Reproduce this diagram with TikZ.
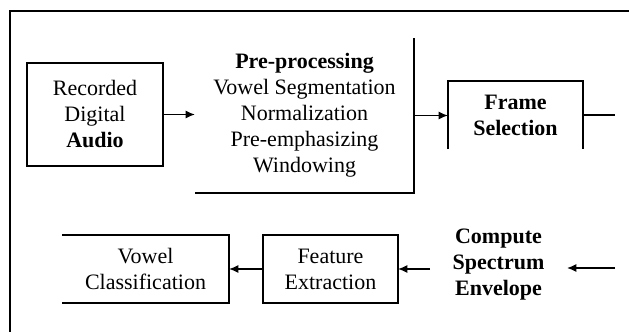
\documentclass[tikz,border=0pt]{standalone}
\usepackage{fontspec}
\setmainfont{Liberation Serif}
\usetikzlibrary{arrows.meta}
\begin{document}
\begin{tikzpicture}[x=0.75pt,y=-0.75pt,
  every node/.style={inner sep=0pt,outer sep=0pt,align=center,
    font=\fontsize{16.5}{19.5}\selectfont},
  ln/.style={line width=1.1pt,black},
  arr/.style={ln,-{Latex[length=7pt,width=6pt]}},
  blk/.style={draw,ln,minimum width=#1}]
\useasboundingbox (0,0) rectangle (629,332);
% outer frame (cropped)
\coordinate (fl) at (10,332);
\coordinate (ftl) at (10,11);
\coordinate (ftr) at (629,11);
\draw[ln] (fl) -- (ftl) -- (ftr);
% nodes
\node[blk=102pt,minimum height=77.25pt] (rec) at (95,114.5)
  {Recorded\\Digital\\\textbf{Audio}};
\node[minimum width=164.25pt,minimum height=116.25pt] (pre) at (304.5,115.5)
  {\textbf{Pre-processing}\\Vowel Segmentation\\Normalization\\Pre-emphasizing\\Windowing};
\node[minimum width=101.25pt,minimum height=51pt] (frm) at (515.5,115)
  {\textbf{Frame}\\\textbf{Selection}};
\node[minimum width=125.25pt,minimum height=51pt] (vow) at (145.5,269)
  {Vowel\\Classification};
\node[blk=101.25pt,minimum height=51pt] (fea) at (330.5,269)
  {Feature\\Extraction};
\node[minimum width=102.75pt] (cmp) at (498.5,265)
  {\textbf{Compute}\\\textbf{Spectrum}\\\textbf{Envelope}};
\coordinate (frmout) at (615,116);
\coordinate (cmpin) at (615,268);
% partial borders
\draw[ln] (pre.south west) -- (pre.south east) -- (pre.north east);
\draw[ln] (frm.south west) -- (frm.north west) -- (frm.north east) -- (frm.south east);
\draw[ln] (vow.north west) -- (vow.north east) -- (vow.south east) -- (vow.south west);
% connectors
\draw[arr] (rec.east) -- (rec.east -| pre.west);
\draw[arr] (pre.east) -- (pre.east -| frm.west);
\draw[ln] (frm.east) -- (frm.east -| frmout);
\draw[arr] (cmpin) -- (cmpin -| cmp.east);
\draw[arr] (fea.east -| cmp.west) -- (fea.east);
\draw[arr] (fea.west) -- (vow.east);
\end{tikzpicture}
\end{document}
